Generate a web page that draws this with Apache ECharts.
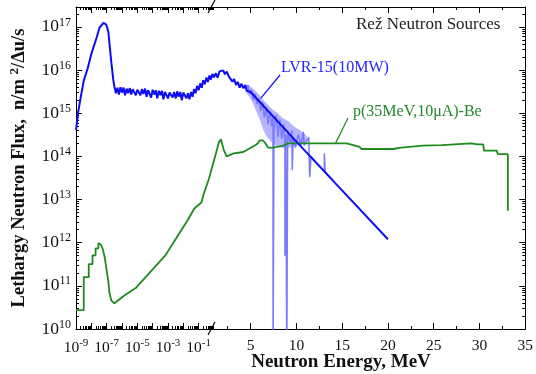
<!DOCTYPE html>
<html>
<head>
<meta charset="utf-8">
<script src="https://cdn.jsdelivr.net/npm/echarts@6/dist/echarts.min.js"></script>
<style>
  html, body { margin: 0; padding: 0; background: #fff; }
  #chart { width: 536px; height: 374px; }
</style>
</head>
<body>
<div id="chart"></div>
<script>
// LVR-15 reactor spectrum (smoothed line), MeV / n/m2/du/s
const lvrEnergy = [
  1e-9, 1.35e-9, 2.1e-9, 3.2e-9, 5.8e-9, 1.05e-8, 2.2e-8, 3.4e-8, 6.1e-8, 9.5e-8,
  1.3e-7, 1.5e-7, 2.0e-7, 2.7e-7,
  3.2e-7, 4.0e-7, 5.0e-7, 6.3e-7, 7.9e-7, 1.0e-6, 1.26e-6, 1.58e-6, 2.0e-6, 2.5e-6,
  3.2e-6, 4.0e-6, 5.0e-6, 6.3e-6, 7.9e-6, 1.0e-5, 1.26e-5, 1.58e-5, 2.0e-5, 2.5e-5,
  3.2e-5, 4.0e-5, 5.0e-5, 6.3e-5, 7.9e-5, 1.0e-4, 1.26e-4, 1.58e-4, 2.0e-4, 2.5e-4,
  3.2e-4, 4.0e-4, 5.0e-4, 6.3e-4, 7.9e-4, 1.0e-3, 1.26e-3, 1.58e-3, 2.0e-3, 2.5e-3,
  3.2e-3, 4.0e-3, 5.0e-3, 6.3e-3, 7.9e-3, 1.0e-2, 1.26e-2, 1.58e-2, 2.0e-2, 2.5e-2,
  3.2e-2, 4.0e-2, 5.0e-2, 6.3e-2, 7.9e-2, 0.1, 0.126, 0.158, 0.2, 0.25,
  0.32, 0.4, 0.5, 0.63, 0.79, 1.0,
  1.2, 1.4, 1.6, 1.8, 2.0, 2.2, 2.4, 2.6, 2.8, 3.0,
  3.2, 3.4, 3.6, 3.8, 4.0, 4.2, 4.4, 4.6, 4.8, 5.0,
  10, 14.5, 20
];
const lvrFlux = [
  4.0e14, 1.0e15, 2.5e15, 5.6e15, 1.1e16, 2.5e16, 5.6e16, 9.5e16, 1.23e17, 1.12e17,
  7.6e16, 4.3e16, 1.55e16, 5.9e15,
  4.1e15, 2.9e15, 3.9e15, 2.7e15, 4.0e15, 3.0e15, 3.9e15, 2.6e15, 3.7e15, 2.9e15,
  3.8e15, 2.7e15, 3.6e15, 4.0e15, 2.6e15, 3.5e15, 3.8e15, 2.6e15, 3.6e15, 2.8e15,
  3.7e15, 2.4e15, 3.4e15, 3.6e15, 2.3e15, 3.5e15, 2.7e15, 3.4e15, 2.2e15, 3.3e15,
  2.6e15, 3.3e15, 2.1e15, 3.1e15, 3.2e15, 2.2e15, 3.0e15, 3.3e15, 2.3e15, 3.1e15,
  2.2e15, 3.2e15, 2.4e15, 3.1e15, 2.0e15, 3.0e15, 3.2e15, 2.2e15, 2.9e15, 2.1e15,
  3.1e15, 2.4e15, 3.6e15, 2.9e15, 4.3e15, 3.4e15, 4.9e15, 3.9e15, 5.8e15, 4.7e15,
  6.7e15, 5.3e15, 7.5e15, 6.0e15, 8.1e15, 6.8e15,
  8.4e15, 6.6e15, 9.3e15, 8.6e15, 9.8e15, 8.0e15, 9.2e15, 7.2e15, 6.6e15, 5.4e15,
  6.2e15, 4.5e15, 5.3e15, 3.9e15, 4.8e15, 3.8e15, 4.4e15, 3.3e15, 3.6e15, 3.1e15,
  2.2e14, 2.1e13, 1.2e12
];

// LVR-15 fine-binned data (light blue), dips below 1e10 run off the axis
const lvrFineEnergy = [
  4.3, 4.5, 4.7, 4.9, 5.1, 5.3, 5.5, 5.7, 5.9, 6.1, 6.3, 6.5, 6.7, 6.9, 7.1, 7.3,
  7.45, 7.45, 7.55, 7.55, 7.8, 8.0, 8.2, 8.4, 8.6, 8.75, 8.75, 8.85, 8.85, 8.95,
  8.95, 9.05, 9.05, 9.3, 9.5, 9.55, 9.65, 9.65, 9.9, 10.2, 10.5, 10.75, 10.85,
  11.1, 11.35, 11.45, 11.55, 11.6, 12.0, 12.6, 13.05, 13.05, 13.15, 13.15, 14.0
];
const lvrFineFlux = [
  4.2e15, 3.5e15, 4.5e15, 2.8e15, 3.5e15, 2.0e15, 2.8e15, 1.6e15, 2.2e15, 1.12e15,
  1.8e15, 7.9e14, 1.4e15, 5.6e14, 1.12e15, 5.0e14,
  7.9e14, 1e9, 1e9, 4.0e14, 8.9e14, 2.8e14, 7.1e14, 2.5e14, 5.6e14, 2.0e14, 5.0e11,
  5.0e11, 3.2e14, 3.2e14,
  1e9, 1e9, 4.0e14, 2.0e14, 4.0e14, 4.8e13, 4.8e13, 2.8e14, 1.6e14, 3.2e14, 1.8e14,
  3.7e14, 1.8e14,
  2.2e14, 2.8e14, 3.3e13, 3.3e13, 1.0e14, 7.9e13, 5.8e13, 4.6e13, 1.17e14, 1.17e14,
  4.4e13, 2.8e13
];

// spread of the fine data around the fitted line
const lvrBandEnergy = [4.4, 4.8, 5.2, 5.6, 6.0, 6.4, 6.8, 7.2, 7.6, 8.0, 8.4, 8.8, 9.2, 9.6, 10.0, 10.4, 10.8, 11.2];
const lvrBandHigh = [4.8e15, 4.5e15, 3.8e15, 3.2e15, 2.6e15, 2.0e15, 1.66e15, 1.32e15, 1.12e15, 1.0e15, 7.9e14, 7.1e14, 6.3e14, 5.2e14, 4.5e14, 4.0e14, 3.5e14, 2.8e14];
const lvrBandLow = [3.2e15, 2.5e15, 1.8e15, 1.12e15, 7.1e14, 4.0e14, 2.8e14, 2.2e14, 1.9e14, 1.66e14, 1.58e14, 1.51e14, 1.58e14, 1.66e14, 1.78e14, 1.9e14, 2.0e14, 2.2e14];

// p(35MeV,10uA)-Be source
const beEnergy = [
  1e-9, 3.2e-9, 3.2e-9, 6.8e-9, 6.8e-9, 1.2e-8, 1.2e-8, 1.9e-8, 1.9e-8, 2.9e-8, 2.9e-8,
  3.4e-8, 4.2e-8, 5.3e-8, 7.1e-8, 9.5e-8, 1.3e-7, 1.5e-7, 2.0e-7, 3.1e-7,
  1.35e-6, 7.8e-6, 6.5e-4, 0.019, 0.052, 0.15, 0.23, 0.48, 0.74,
  1.21, 1.53, 1.75, 2.07, 2.39, 3.14, 4.2, 5.5, 5.8, 6.0, 6.3, 6.56, 6.9, 7.4, 8.5,
  9.1, 12, 15.5, 16.9, 17.1, 20.6, 21.2, 23.8, 25.9, 29.1, 29.8, 30.4, 30.5, 31.9,
  32.0, 33.1, 33.1
];
const beFlux = [
  2.75e10, 2.75e10, 1.6e11, 1.6e11, 3.2e11, 3.2e11, 5.1e11, 5.1e11, 7.4e11, 7.4e11, 9.8e11,
  9.8e11, 9.0e11, 7.5e11, 5.0e11, 2.6e11, 1.2e11, 7.0e10, 4.6e10, 3.9e10,
  5.9e10, 8.9e10, 5.0e11, 3.3e12, 6.2e12, 8.5e12, 1.45e13, 3.1e13, 5.5e13,
  1.17e14, 2.1e14, 2.5e14, 1.4e14, 1.0e14, 1.17e14, 1.26e14, 1.8e14, 2.0e14, 2.35e14,
  2.35e14, 2.1e14, 1.6e14, 1.6e14, 1.75e14,
  2.0e14, 2.0e14, 2.0e14, 1.66e14, 1.48e14, 1.48e14, 1.58e14, 1.78e14, 1.82e14, 2.0e14,
  1.9e14, 1.9e14, 1.35e14, 1.35e14,
  1.12e14, 1.12e14, 5.5e12
];

// axis ticks
const xLogLabelExps = [-9, -7, -5, -3, -1];
const xLinLabels = [5, 10, 15, 20, 25, 30, 35];
const xLinMinor = [2.5, 7.5, 12.5, 17.5, 22.5, 27.5, 32.5];
const yLabelExps = [10, 11, 12, 13, 14, 15, 16, 17];

// x axis: log decades up to 1 MeV, then linear in MeV
const MEV_UNIT = 0.597;
function tx(e) { return e < 1 ? Math.log10(e) + 9 : 9 + (e - 1) * MEV_UNIT; }
function ty(v) { return Math.log10(v); }
const X_MAX = tx(35);
const Y_MIN = 10, Y_MAX = 17.46;

function pairs(xs, ys) { return xs.map((e, i) => [tx(e), ty(ys[i])]); }

const xMajor = [0, 1, 2, 3, 4, 5, 6, 7, 8].concat(xLinLabels.map(tx));
const xLabelVals = xLogLabelExps.map(n => n + 9).concat(xLinLabels.map(tx));
const xMinor = [];
for (let n = 0; n < 9; n++) for (let m = 2; m <= 9; m++) xMinor.push(n + Math.log10(m));
xLinMinor.forEach(e => xMinor.push(tx(e)));
const yMinor = [];
yLabelExps.forEach(n => { for (let m = 2; m <= 9; m++) if (n + Math.log10(m) < Y_MAX) yMinor.push(n + Math.log10(m)); });

const SERIF = 'Liberation Serif';
const BLUE = '#0c0cf5', LIGHT = '#7a7aff', GREEN = '#1f8b1f';

const chart = echarts.init(document.getElementById('chart'));

function xAxisDef(pos, ticks, len, labels) {
  return {
    type: 'value', position: pos, min: 0, max: X_MAX,
    splitLine: { show: false },
    axisLine: { show: len > 4, onZero: false, lineStyle: { color: '#000', width: 1 } },
    axisTick: { show: true, inside: true, length: len, customValues: ticks, lineStyle: { color: '#000' } },
    axisLabel: labels ? {
      customValues: xLabelVals, margin: 9, color: '#111', fontFamily: SERIF,
      formatter: v => v < 8.5 ? '{b|10}{s|' + Math.round(v - 9) + '}' : '{b|' + Math.round(1 + (v - 9) / MEV_UNIT) + '}',
      rich: {
        b: { fontSize: 15.5, fontFamily: SERIF, color: '#111' },
        s: { fontSize: 11, fontFamily: SERIF, color: '#111', padding: [0, 0, 8, 0] }
      }
    } : { show: false }
  };
}
function yAxisDef(pos, ticks, len, labels) {
  return {
    type: 'value', position: pos, min: Y_MIN, max: Y_MAX,
    splitLine: { show: false },
    axisLine: { show: len > 4, onZero: false, lineStyle: { color: '#000', width: 1 } },
    axisTick: { show: true, inside: true, length: len, customValues: ticks, lineStyle: { color: '#000' } },
    axisLabel: labels ? {
      customValues: yLabelExps, margin: 5, fontFamily: SERIF,
      formatter: v => '{b|10}{s|' + v + '}',
      rich: {
        b: { fontSize: 17.5, fontFamily: SERIF, color: '#111' },
        s: { fontSize: 12, fontFamily: SERIF, color: '#111', padding: [0, 0, 9, 0] }
      }
    } : { show: false },
    name: labels ? 'Lethargy Neutron Flux,  n/m {s|2}/\u0394u/s' : '',
    nameLocation: 'middle', nameGap: 45, nameRotate: 90,
    nameTextStyle: {
      fontFamily: SERIF, fontWeight: 'bold', fontSize: 18.5, color: '#111',
      rich: { s: { fontFamily: SERIF, fontWeight: 'bold', fontSize: 13, color: '#111', padding: [0, 0, 10, 0] } }
    }
  };
}

const option = {
  animation: false,
  grid: { left: 69, right: 8, top: 7, bottom: 45 },
  xAxis: [
    xAxisDef('bottom', xMajor, 6, true),
    xAxisDef('bottom', xMinor, 3, false),
    xAxisDef('top', xMajor, 6, false),
    xAxisDef('top', xMinor, 3, false)
  ],
  yAxis: [
    yAxisDef('left', yLabelExps, 6, true),
    yAxisDef('left', yMinor, 3, false),
    yAxisDef('right', yLabelExps, 6, false),
    yAxisDef('right', yMinor, 3, false)
  ],
  series: [
    {
      type: 'custom', name: 'band', silent: true, z: 1,
      data: [[tx(lvrBandEnergy[0]), ty(lvrBandHigh[0])]],
      renderItem: (params, api) => {
        const top = lvrBandEnergy.map((e, i) => api.coord([tx(e), ty(lvrBandHigh[i])]));
        const bottom = lvrBandEnergy.map((e, i) => api.coord([tx(e), ty(lvrBandLow[i])])).reverse();
        return { type: 'polygon', shape: { points: top.concat(bottom) }, style: { fill: '#a8a8ff', opacity: 0.85 } };
      }
    },
    {
      type: 'line', name: 'LVR-15 fine', symbol: 'none', silent: true,
      data: pairs(lvrFineEnergy, lvrFineFlux),
      lineStyle: { color: LIGHT, width: 1.5 }, z: 2
    },
    {
      type: 'line', name: 'p(35MeV,10\u03bcA)-Be', symbol: 'none', silent: true,
      data: pairs(beEnergy, beFlux),
      lineStyle: { color: GREEN, width: 1.8 }, z: 3,
      markLine: {
        silent: true, symbol: ['none', 'arrow'], symbolSize: [0, 7], label: { show: false },
        lineStyle: { color: GREEN, width: 1.2, type: 'solid' },
        data: [[{ x: 348, y: 118 }, { coord: [tx(14.3), ty(2.05e14)] }]]
      }
    },
    {
      type: 'line', name: 'LVR-15(10MW)', symbol: 'none', silent: true,
      data: pairs(lvrEnergy, lvrFlux),
      lineStyle: { color: BLUE, width: 2 }, z: 4,
      markLine: {
        silent: true, symbol: ['none', 'arrow'], symbolSize: [0, 7], label: { show: false },
        lineStyle: { color: BLUE, width: 1.2, type: 'solid' },
        data: [[{ x: 280, y: 75 }, { coord: [tx(6.1), ty(2.2e15)] }]]
      }
    }
  ]
};
chart.setOption(option);

const bx = chart.convertToPixel({ xAxisIndex: 0 }, 9);
const textStyle = (txt, fill, size, weight, align) => ({
  text: txt, fill: fill, fontSize: size, fontFamily: SERIF, fontWeight: weight || 'normal',
  verticalAlign: 'middle', align: align || 'left'
});
chart.setOption({
  graphic: [
    { type: 'line', shape: { x1: bx - 6, y1: 335, x2: bx + 1, y2: 322 }, style: { stroke: '#000', lineWidth: 1.2 } },
    { type: 'line', shape: { x1: bx - 6, y1: 13, x2: bx + 1, y2: 0 }, style: { stroke: '#000', lineWidth: 1.2 } },
    { type: 'text', x: 356, y: 25, style: textStyle('Re\u017e Neutron Sources', '#222', 17) },
    { type: 'text', x: 281, y: 68, style: textStyle('LVR-15(10MW)', '#2525ff', 16) },
    { type: 'text', x: 353, y: 112, style: textStyle('p(35MeV,10\u03bcA)-Be', '#22892a', 16) },
    { type: 'text', x: 341, y: 362, style: textStyle('Neutron Energy, MeV', '#111', 19, 'bold', 'center') }
  ]
});
</script>
</body>
</html>
